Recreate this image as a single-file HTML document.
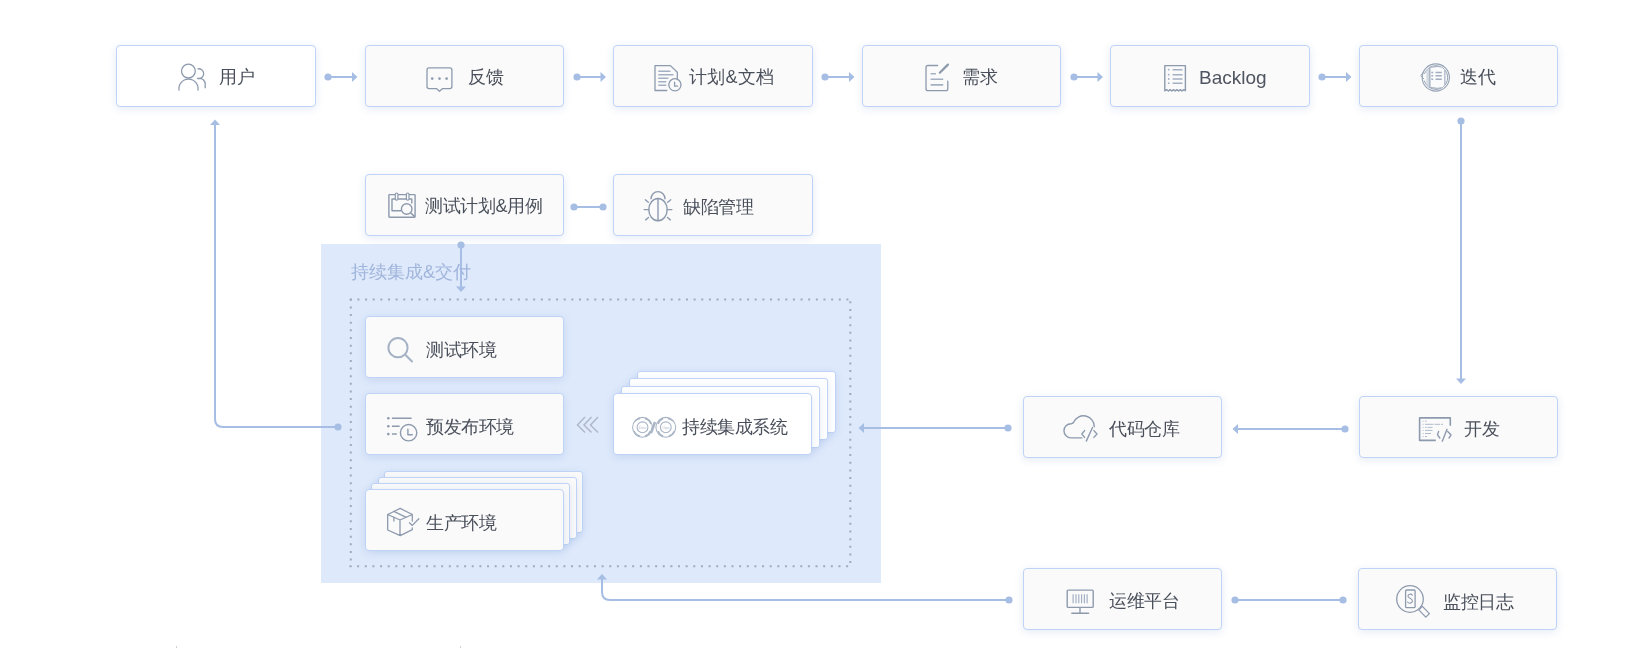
<!DOCTYPE html>
<html><head><meta charset="utf-8">
<style>
html,body{margin:0;padding:0;background:#fff;}
body{width:1638px;height:648px;position:relative;overflow:hidden;font-family:"Liberation Sans",sans-serif;}
.ci{position:absolute;left:321px;top:244px;width:560px;height:339px;background:#dee9fb;}
.b{position:absolute;box-sizing:border-box;border:1px solid #bed3f6;border-radius:4px;box-shadow:0 2px 8px rgba(30,80,170,0.12);}
.l{border-radius:3px;}
.t{position:absolute;font-size:18px;line-height:18px;color:#494f5a;white-space:nowrap;letter-spacing:-0.4px;will-change:transform;}
.bl{font-size:19px;line-height:20px;letter-spacing:0;color:#4e5460;}
.ttl{position:absolute;font-size:18px;line-height:18px;color:#a0b5dc;white-space:nowrap;letter-spacing:0;will-change:transform;}
svg{position:absolute;left:0;top:0;overflow:visible;}
</style></head><body>
<div class="ci"></div>
<div class="b" style="left:116px;top:45px;width:200px;height:62px;background:#fff"></div>
<div class="b" style="left:365px;top:45px;width:199px;height:62px;background:#fafafa"></div>
<div class="b" style="left:613px;top:45px;width:200px;height:62px;background:#fafafa"></div>
<div class="b" style="left:862px;top:45px;width:199px;height:62px;background:#fafafa"></div>
<div class="b" style="left:1110px;top:45px;width:200px;height:62px;background:#fafafa"></div>
<div class="b" style="left:1359px;top:45px;width:199px;height:62px;background:#fafafa"></div>
<div class="b" style="left:365px;top:174px;width:199px;height:62px;background:#fafafa"></div>
<div class="b" style="left:613px;top:174px;width:200px;height:62px;background:#fafafa"></div>
<div class="b" style="left:365px;top:316px;width:199px;height:62px;background:#fafafa"></div>
<div class="b" style="left:365px;top:393px;width:199px;height:62px;background:#fafafa"></div>
<div class="b l" style="left:384px;top:471px;width:199px;height:62px;background:#fafafa"></div>
<div class="b l" style="left:378px;top:477px;width:199px;height:62px;background:#fafafa"></div>
<div class="b l" style="left:371px;top:483px;width:199px;height:62px;background:#fafafa"></div>
<div class="b" style="left:365px;top:489px;width:199px;height:62px;background:#fafafa"></div>
<div class="b l" style="left:637px;top:371px;width:199px;height:62px;background:#fff"></div>
<div class="b l" style="left:629px;top:378px;width:199px;height:62px;background:#fff"></div>
<div class="b l" style="left:621px;top:386px;width:199px;height:62px;background:#fff"></div>
<div class="b" style="left:613px;top:393px;width:199px;height:62px;background:#fff"></div>
<div class="b" style="left:1023px;top:396px;width:199px;height:62px;background:#fafafa"></div>
<div class="b" style="left:1359px;top:396px;width:199px;height:62px;background:#fafafa"></div>
<div class="b" style="left:1023px;top:568px;width:199px;height:62px;background:#fafafa"></div>
<div class="b" style="left:1358px;top:568px;width:199px;height:62px;background:#fafafa"></div>
<svg width="1638" height="648" viewBox="0 0 1638 648">
<g fill="none" stroke="#a6bde4" stroke-width="2">
<path d="M328,77 H353"/><path d="M577,77 H602"/><path d="M825,77 H850"/><path d="M1074,77 H1099"/><path d="M1322,77 H1347"/>
<path d="M574,207 H603"/>
<path d="M461,245 V288"/>
<path d="M338,427 H223 Q215,427 215,419 V124"/>
<path d="M1461,121 V380"/>
<path d="M1345,429 H1237"/>
<path d="M1008,428 H863"/>
<path d="M1009,600 H610 Q602,600 602,592 V578"/>
<path d="M1235,600 H1343"/>
</g>
<g fill="#a6bde4"><circle cx="328" cy="77" r="3.6"/><circle cx="577" cy="77" r="3.6"/><circle cx="825" cy="77" r="3.6"/><circle cx="1074" cy="77" r="3.6"/><circle cx="1322" cy="77" r="3.6"/><circle cx="574" cy="207" r="3.6"/><circle cx="603" cy="207" r="3.6"/><circle cx="461" cy="245" r="3.6"/><circle cx="338" cy="427" r="3.6"/><circle cx="1461" cy="121" r="3.6"/><circle cx="1345" cy="429" r="3.6"/><circle cx="1008" cy="428" r="3.6"/><circle cx="1009" cy="600" r="3.6"/><circle cx="1235" cy="600" r="3.6"/><circle cx="1343" cy="600" r="3.6"/>
<path d="M352.0,72 L357.5,77 L352.0,82 z"/><path d="M600.5,72 L606,77 L600.5,82 z"/><path d="M849.0,72 L854.5,77 L849.0,82 z"/><path d="M1097.5,72 L1103,77 L1097.5,82 z"/><path d="M1346.0,72 L1351.5,77 L1346.0,82 z"/><path d="M456,286.5 L461,292 L466,286.5 z"/><path d="M210,125.0 L215,119.5 L220,125.0 z"/><path d="M1456,378.5 L1461,384 L1466,378.5 z"/><path d="M1238.0,424 L1232.5,429 L1238.0,434 z"/><path d="M864.0,423 L858.5,428 L864.0,433 z"/><path d="M597,579.5 L602,574 L607,579.5 z"/></g>
<g stroke="#a1abb9" stroke-width="2" stroke-dasharray="2 5.64" fill="none">
<path d="M349.8,299.4 H851"/><path d="M350.8,298.8 V567"/><path d="M349.5,566.3 H849"/><path d="M850.3,301.3 V566"/>
</g>
<g fill="none" stroke="#b0b9c8" stroke-width="1.5">
<path d="M585,417 L577.5,425 L585,432.5"/>
<path d="M591.5,417 L584,425 L591.5,432.5"/>
<path d="M598,417 L590.5,425 L598,432.5"/>
</g>
<g fill="none" stroke="#8d9aae" stroke-width="1.3" stroke-linecap="round" stroke-linejoin="round">
<!-- 1 users -->
<circle cx="188.4" cy="71.1" r="6.9"/>
<path d="M179.1,90.6 A9.6,9.6 0 1 1 197.9,90.6" stroke-linecap="butt"/>
<path d="M197.4,69 A4.9,4.9 0 1 1 197.4,78.4 H199.5 A5.7,5.7 0 0 1 205.2,84.1 V88.3" stroke-linecap="butt"/>
<!-- 2 chat -->
<path d="M429,67.9 H449.9 A2,2 0 0 1 451.9,69.9 V86.6 A2,2 0 0 1 449.9,88.6 H442.6 L439.5,91.3 L436.4,88.6 H429 A2,2 0 0 1 427,86.6 V69.9 A2,2 0 0 1 429,67.9 Z"/>
<g fill="#8d9aae" stroke="none"><circle cx="432.2" cy="78.6" r="1.3"/><circle cx="439.5" cy="78.6" r="1.3"/><circle cx="446.6" cy="78.6" r="1.3"/></g>
<!-- 3 doc clock -->
<path d="M666.8,90.5 H655 V65.6 H670.4 L677.3,72.2 V79.5"/>
<path d="M658.3,71.2 H670.4 M658.3,74.8 H673.5 M658.3,78.2 H668.4 M658.3,81.7 H666.3 M658.3,85.3 H666.3" stroke-width="1.4" stroke="#a3b0c3" stroke-linecap="butt"/>
<circle cx="674.9" cy="84.8" r="6.1"/>
<path d="M674.6,82.2 V86.2 H677.6" stroke-width="1.3"/>
<!-- 4 edit -->
<path d="M937.6,65.5 H928 A2,2 0 0 0 926,67.5 V88.7 A2,2 0 0 0 928,90.7 H945.8 A2,2 0 0 0 947.8,88.7 V81.2"/>
<path d="M939.8,72.7 L947.9,64.6" stroke-width="2.2"/>
<path d="M930.6,73.8 H935.9 M930.6,79.2 H943.2 M930.6,84.9 H943.2" stroke-width="1.6" stroke="#a3b0c3" stroke-linecap="butt"/>
<!-- 5 backlog -->
<path d="M1164.8,90.8 V65.6 H1185.4 V90.8 L1183.7,89.6 L1182,91 L1180.3,89.6 L1178.6,91 L1176.9,89.6 L1175.2,91 L1173.5,89.6 L1171.8,91 L1170.1,89.6 L1168.4,91 L1166.6,89.6 Z" stroke-width="1.4"/>
<path d="M1172.6,69.7 H1182.5 M1172.6,74.7 H1182.5 M1172.6,79 H1182.5 M1172.6,83.2 H1182.5" stroke-width="1.5" stroke="#a3b0c3" stroke-linecap="butt"/>
<g fill="#a3b0c3" stroke="none"><circle cx="1168.7" cy="69.7" r="0.9"/><circle cx="1168.7" cy="74.7" r="0.9"/><circle cx="1168.7" cy="79" r="0.9"/><circle cx="1168.7" cy="83.2" r="0.9"/></g>
<!-- 6 iteration -->
<g stroke="#95a2b5">
<clipPath id="itc"><circle cx="1435.8" cy="77.5" r="11.6"/></clipPath>
<circle cx="1435.8" cy="77.5" r="13.6" stroke-width="1.1"/>
<path d="M1424.6,73.5 A11.9,11.9 0 1 1 1424.4,81" stroke-width="1"/>
<path d="M1423.4,72.2 L1420.8,75.6 L1423.6,78.8" stroke-width="1"/>
<g clip-path="url(#itc)"><rect x="1426.4" y="60" width="3.9" height="35" fill="#d3d9e2" stroke="none"/>
<path d="M1430.3,67.2 Q1437.6,65.6 1444.9,67.4 V87.4 Q1437.6,89.2 1430.3,87.6 Z" stroke-width="1" fill="#fafbfc"/></g>
<path d="M1435.5,72.5 H1441.8 M1435.5,75.8 H1441.8 M1435.5,79.3 H1441.8 M1431.3,72.5 H1433.2 M1431.3,75.8 H1433.2 M1431.3,79.3 H1433.2" stroke-width="1.6" stroke="#a2aec0" stroke-linecap="butt"/>
</g>
<!-- 7 calendar search -->
<rect x="388.9" y="194.6" width="26.2" height="22.6" rx="0.6" stroke-width="1.4"/>
<path d="M401,210.8 H392 V199 H411.8 V203" stroke-width="1.4"/>
<rect x="395.3" y="193" width="2.6" height="7.2" rx="1.2" stroke-width="1.2" fill="#fafafa"/>
<rect x="406.4" y="193" width="2.6" height="7.2" rx="1.2" stroke-width="1.2" fill="#fafafa"/>
<circle cx="406.7" cy="209" r="5.3" stroke-width="1.4" fill="#fafafa"/>
<path d="M410.9,213 L414.4,216.4" stroke-width="1.5"/>
<!-- 8 bug -->
<ellipse cx="658" cy="209.6" rx="9.2" ry="11.1" stroke-width="1.4"/>
<path d="M651,198.8 A7,7.2 0 0 1 665,198.8" stroke-width="1.4"/>
<path d="M658,198.5 V220.8" stroke-width="1.4"/>
<path d="M645.3,199.7 L648.3,202.2 M644.1,209.6 H648.8 M645.7,219.9 L648.5,217.5 M670.7,199.7 L667.7,202.2 M671.9,209.6 H667.2 M670.3,219.9 L667.5,217.5" stroke-width="1.4"/>
<!-- 9 magnifier -->
<g stroke="#a5b2c5" stroke-width="2">
<circle cx="398" cy="347.7" r="9.6"/>
<path d="M405.3,354.8 L412,361.5"/>
</g>
<!-- 10 list clock -->
<g fill="#8d9aae" stroke="none"><circle cx="388.3" cy="418.3" r="1.3"/><circle cx="388.3" cy="426.2" r="1.3"/><circle cx="388.3" cy="434.1" r="1.3"/></g>
<path d="M391.9,418.3 H411.6 M391.9,426.2 H399.6 M391.9,434.1 H396.8" stroke-width="1.5" stroke-linecap="butt"/>
<circle cx="408.6" cy="432.7" r="8.2" stroke-width="1.4"/>
<path d="M407.9,429.2 V434.8 H412.3" stroke-width="1.4"/>
<!-- 12 cube -->
<path d="M400.2,508.4 L387.7,514.5 V530 L400.2,535.7 L412.3,529.6 V527.8 M412.3,521 V514.5 L400.2,508.4 M387.7,514.5 L400,520 L412.3,514.5 M400,520 V535.7" stroke-width="1.3"/>
<path d="M393.9,511.4 L406.2,517.3 M393.9,517.2 V521 " stroke-width="1.3"/>
<path d="M409.5,522.8 L412.3,525.4 L418.8,518.8" stroke-width="1.3"/>
<!-- 13 cloud code -->
<path d="M1081.8,437.9 H1071 A7.05,7.05 0 0 1 1071,423.8 Q1072.6,423.6 1073.5,422.5 A10.8,10.8 0 0 1 1094.3,426.8" stroke-width="1.4"/>
<path d="M1084.6,430.6 L1081.8,434 L1084.6,437.4 M1093.9,430.6 L1097,434 L1093.9,437.4 M1092.5,427.5 L1086.3,441.1" stroke-width="1.4"/>
<!-- 14 dev -->
<path d="M1435.8,440.4 H1419.6 V417.9 H1450.3 V425.8" stroke-width="1.6" stroke-linecap="butt"/>
<path d="M1438.6,431.4 L1437.5,434.9 L1439.8,438 M1447.7,431.4 L1451.1,434.9 L1449,438 M1447,429.3 L1442.3,441.2" stroke-width="1.4"/>
<path d="M1422.6,421.2 H1423.6 M1425,421.2 H1426.6 M1422.6,424.3 H1423.6 M1425,424.3 H1433.5 M1434.5,424.3 H1440 M1441,424.3 H1443 M1422.6,427.4 H1423.6 M1425,427.4 H1426.6 M1427.5,427.4 H1432.5 M1422.6,430.4 H1423.6 M1425,430.4 H1432.5 M1422.6,433.5 H1423.6 M1425,433.5 H1431 M1422.6,436.6 H1423.6 M1425,436.6 H1427" stroke-width="1" stroke="#b0bbcc" stroke-linecap="butt"/>
<!-- 15 monitor -->
<rect x="1067.2" y="590.1" width="26" height="17.3" rx="1" stroke-width="1.4"/>
<path d="M1080,607.8 V612.8 M1071.8,613.2 H1088.6" stroke-width="1.4"/>
<path d="M1073.1,594.3 V603.3 M1076,594.3 V603.3 M1078.8,594.3 V603.3 M1081.6,594.3 V603.3 M1084.4,594.3 V603.3 M1087.1,594.3 V603.3" stroke-width="1.1" stroke="#9dabc0" stroke-linecap="butt"/>
<!-- 16 search doc -->
<circle cx="1410" cy="599" r="13.3" stroke-width="1.3"/>
<rect x="1405.6" y="590" width="9.5" height="17.7" rx="1" stroke-width="1.3"/>
<path d="M1412.3,595.2 C1411.4,593.6 1407.9,593.8 1408,596.2 C1408.1,598.4 1412.4,598.2 1412.4,601 C1412.4,603.6 1408.6,603.8 1407.6,602" stroke-width="1.1"/>
<path d="M1418.8,609.9 L1422.4,606.4 L1429.4,613.6 L1425.8,617.1 Z" stroke-width="1.3"/>
</g>
<!-- 11 devops -->
<g fill="none" stroke="#a9b4c5" stroke-width="1.1">
<circle cx="642.5" cy="427.3" r="9.9"/>
<circle cx="665.8" cy="427.3" r="9.9"/>
<circle cx="642.5" cy="427.3" r="5.4"/>
<circle cx="665.8" cy="427.3" r="5.4"/>
<path d="M635,421 A9,9 0 0 1 640,418.5 M645,418.5 A9,9 0 0 1 651,424 M650.5,431 A9,9 0 0 1 645,436 M640,436.2 A9,9 0 0 1 634,431" stroke-width="1.6"/>
<path d="M658,424 A9,9 0 0 1 663,418.5 M668,418.5 A9,9 0 0 1 673,421 M674.5,431 A9,9 0 0 1 669,436 M663,436.2 A9,9 0 0 1 658,431" stroke-width="1.6"/>
<path d="M655,422 L651,433" stroke-width="2.5"/>
<text x="642.5" y="429" font-size="4.2" text-anchor="middle" fill="#b4bdcb" stroke="none" font-family="Liberation Sans">Dev</text>
<text x="665.8" y="429" font-size="4.2" text-anchor="middle" fill="#b4bdcb" stroke="none" font-family="Liberation Sans">Ops</text>
</g>

</svg>
<div class="t" style="left:219px;top:68px">用户</div>
<div class="t" style="left:468px;top:68px">反馈</div>
<div class="t" style="left:689px;top:68px"><span style="letter-spacing:0.2px">计划&amp;文档</span></div>
<div class="t" style="left:962px;top:68px">需求</div>
<div class="t" style="left:1460px;top:68px">迭代</div>
<div class="t" style="left:425px;top:197px">测试计划&amp;用例</div>
<div class="t" style="left:683px;top:198px">缺陷管理</div>
<div class="t" style="left:426px;top:341px">测试环境</div>
<div class="t" style="left:426px;top:418px">预发布环境</div>
<div class="t" style="left:682px;top:418px">持续集成系统</div>
<div class="t" style="left:426px;top:514px">生产环境</div>
<div class="t" style="left:1109px;top:420px">代码仓库</div>
<div class="t" style="left:1464px;top:420px">开发</div>
<div class="t" style="left:1109px;top:592px">运维平台</div>
<div class="t" style="left:1443px;top:593px">监控日志</div>
<div class="t bl" style="left:1199px;top:68px">Backlog</div>
<div style="position:absolute;left:176px;top:646px;width:1px;height:2px;background:#d2d3d8"></div><div style="position:absolute;left:460px;top:646px;width:1px;height:2px;background:#d2d3d8"></div>
<div class="ttl" style="left:351px;top:263px">持续集成&amp;交付</div>
</body></html>
